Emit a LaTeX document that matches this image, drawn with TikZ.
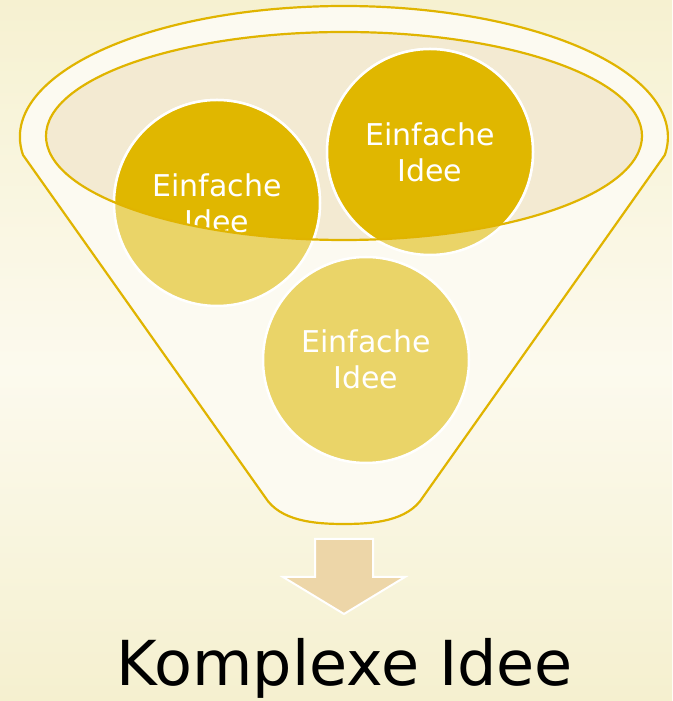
\documentclass[tikz,border=0pt]{standalone}
\usepackage{fontspec}
\setmainfont{DejaVu Sans}
\definecolor{bgtop}{HTML}{F6F1D1}
\definecolor{bgmid}{HTML}{FCFAEE}
\definecolor{bgbot}{HTML}{F5F0CF}
\definecolor{funnelfill}{HTML}{FCFAF1}
\definecolor{innerfill}{HTML}{F3EAD2}
\definecolor{goldline}{HTML}{E0B400}
\definecolor{golddark}{HTML}{E0B700}
\definecolor{goldlight}{HTML}{EAD468}
\definecolor{arrowfill}{HTML}{EDD6A8}
\begin{document}
\begin{tikzpicture}[x=1pt,y=1pt,
  idea/.style={circle, minimum size=206pt, inner sep=0pt, draw=white, line width=2.5pt},
  ideatext/.style={text=white, align=center, font=\fontsize{30}{36}\selectfont},
  rim/.style={draw=goldline, line width=2.2pt}]
\useasboundingbox (0,0) rectangle (672,701);
\shade[top color=bgtop, bottom color=bgmid, shading angle=0] (0,701) rectangle (672,330);
\shade[top color=bgmid, bottom color=bgbot] (0,330.5) rectangle (672,0);
% funnel body
\draw[rim, fill=funnelfill, line join=round]
  (23,546) arc[start angle=187.9, end angle=-7.9, x radius=324, y radius=131]
  -- (423,204)
  .. controls (408,180) and (374,177) .. (344,177)
  .. controls (314,177) and (280,180) .. (265,204)
  -- cycle;
% inner ellipse fill
\fill[innerfill] (344,565) ellipse [x radius=298, y radius=104];
% circles (light part)
\node[idea, fill=goldlight] (a) at (217,498) {};
\node[idea, fill=goldlight] (b) at (430,549) {};
\node[idea, fill=goldlight] (c) at (366,341) {};
% circles inside inner ellipse
\begin{scope}
  \clip (344,565) ellipse [x radius=298, y radius=104];
  \node[idea, fill=golddark] (a2) at (217,498) {};
  \node[idea, fill=golddark] (b2) at (430,549) {};
  \node[ideatext] (ta) at (217,498) {Einfache\\Idee};
\end{scope}
\draw[rim] (344,565) ellipse [x radius=298, y radius=104];
\node[ideatext] (tb) at (430,549) {Einfache\\Idee};
\node[ideatext] (tc) at (366,342) {Einfache\\Idee};
% arrow
\draw[draw=white, line width=2pt, fill=arrowfill, line join=miter]
  (315,162) -- (373,162) -- (373,124) -- (405,124) -- (344,87) -- (283,124) -- (315,124) -- cycle;
\node[anchor=base, font=\fontsize{62}{70}\selectfont, text=black, inner sep=0pt] (out) at (345,15) {Komplexe Idee};
\end{tikzpicture}
\end{document}
